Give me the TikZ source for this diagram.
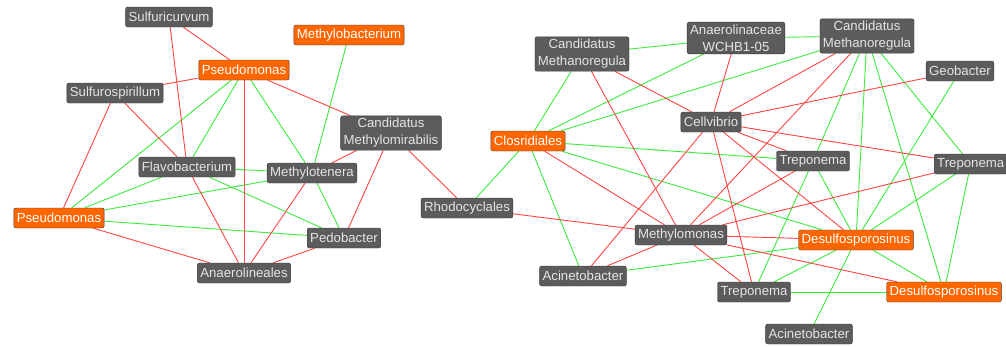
\documentclass[tikz,border=0pt]{standalone}
\usepackage{fontspec}
\setmainfont{Liberation Sans}
\usepackage{tikz}
\usetikzlibrary{backgrounds}

\definecolor{taxgray}{HTML}{5C5C5C}
\definecolor{taxrim}{HTML}{3A3A3A}
\definecolor{taxorange}{HTML}{FF6600}
\definecolor{posgreen}{HTML}{3CEB3C}
\definecolor{negred}{HTML}{FF4444}

\begin{document}
\begin{tikzpicture}[x=1pt,y=-1pt,
    taxon/.style={draw=taxrim,fill=taxgray,text=white!90!black,rounded corners=2pt,
      font=\fontsize{13.2}{17}\selectfont,inner xsep=3pt,inner ysep=2.5pt,
      minimum height=20pt,align=center},
    hub/.style={taxon,fill=taxorange,text=white},
    poslink/.style={posgreen,line width=0.9pt},
    neglink/.style={negred,line width=0.9pt}]
  \useasboundingbox (0,0) rectangle (1006,346);

  % left network
  \node[taxon] (sulfcurv) at (169,17) {Sulfuricurvum};
  \node[hub] (methbact) at (349,35) {Methylobacterium};
  \node[hub] (pseudtop) at (244,70) {Pseudomonas};
  \node[taxon] (sulfspir) at (115,93) {Sulfurospirillum};
  \node[taxon] (methmira) at (391,133) {Candidatus\\Methylomirabilis};
  \node[taxon] (flavo) at (187,167) {Flavobacterium};
  \node[taxon] (methten) at (312,173) {Methylotenera};
  \node[hub] (pseudleft) at (59,218) {Pseudomonas};
  \node[taxon] (pedo) at (344,238) {Pedobacter};
  \node[taxon] (anaerlin) at (244,273) {Anaerolineales};
  \node[taxon] (rhodo) at (467,208) {Rhodocyclales};

  % right network
  \node[taxon] (methregl) at (582,54) {Candidatus\\Methanoregula};
  \node[taxon] (anaerwch) at (736,38) {Anaerolinaceae\\WCHB1-05};
  \node[taxon] (methregr) at (867,36) {Candidatus\\Methanoregula};
  \node[taxon] (geo) at (960,71) {Geobacter};
  \node[hub] (clos) at (528,141) {Closridiales};
  \node[taxon] (cellv) at (711,122) {Cellvibrio};
  \node[taxon] (trepmid) at (813,161) {Treponema};
  \node[taxon,anchor=west] (trepright) at (934,164) {Treponema};
  \node[taxon] (methmon) at (681,235) {Methylomonas};
  \node[hub] (desmid) at (856,240) {Desulfosporosinus};
  \node[taxon] (acinleft) at (583,276) {Acinetobacter};
  \node[taxon] (trepbot) at (754,292) {Treponema};
  \node[hub] (desright) at (944,292) {Desulfosporosinus};
  \node[taxon] (acinbot) at (809,334) {Acinetobacter};

  \begin{scope}[on background layer]
    \foreach \a/\b in {pseudtop/flavo, pseudtop/pseudleft, pseudtop/methten,
        methbact/methten, flavo/methten, flavo/pseudleft, flavo/pedo,
        methten/pseudleft, methten/pedo, pseudleft/pedo, rhodo/clos,
        methregl/anaerwch, methregl/clos, anaerwch/clos, anaerwch/methregr,
        methregr/clos, methregr/trepmid, methregr/desmid, methregr/desright,
        methregr/trepright, geo/desmid, trepright/desmid, trepright/desright,
        clos/trepmid, clos/desmid, clos/acinleft, acinleft/desmid,
        trepmid/trepbot, trepmid/desmid, desmid/trepbot, desmid/desright,
        desmid/acinbot, trepbot/desright}
      \draw[poslink] (\a) -- (\b);
    \foreach \a/\b in {sulfcurv/pseudtop, sulfcurv/flavo, pseudtop/sulfspir,
        pseudtop/anaerlin, pseudtop/methmira, sulfspir/pseudleft, sulfspir/flavo,
        methmira/methten, methmira/pedo, methmira/rhodo, flavo/anaerlin,
        methten/anaerlin, pseudleft/anaerlin, pedo/anaerlin,
        methregl/cellv, methregl/methmon, anaerwch/cellv, methregr/cellv,
        methregr/methmon, cellv/geo, cellv/trepright, cellv/trepmid,
        cellv/desmid, cellv/trepbot, cellv/acinleft, clos/methmon,
        rhodo/methmon, methmon/trepmid, methmon/trepright, methmon/desmid,
        methmon/desright, methmon/trepbot, methmon/acinleft}
      \draw[neglink] (\a) -- (\b);
  \end{scope}
\end{tikzpicture}
\end{document}
